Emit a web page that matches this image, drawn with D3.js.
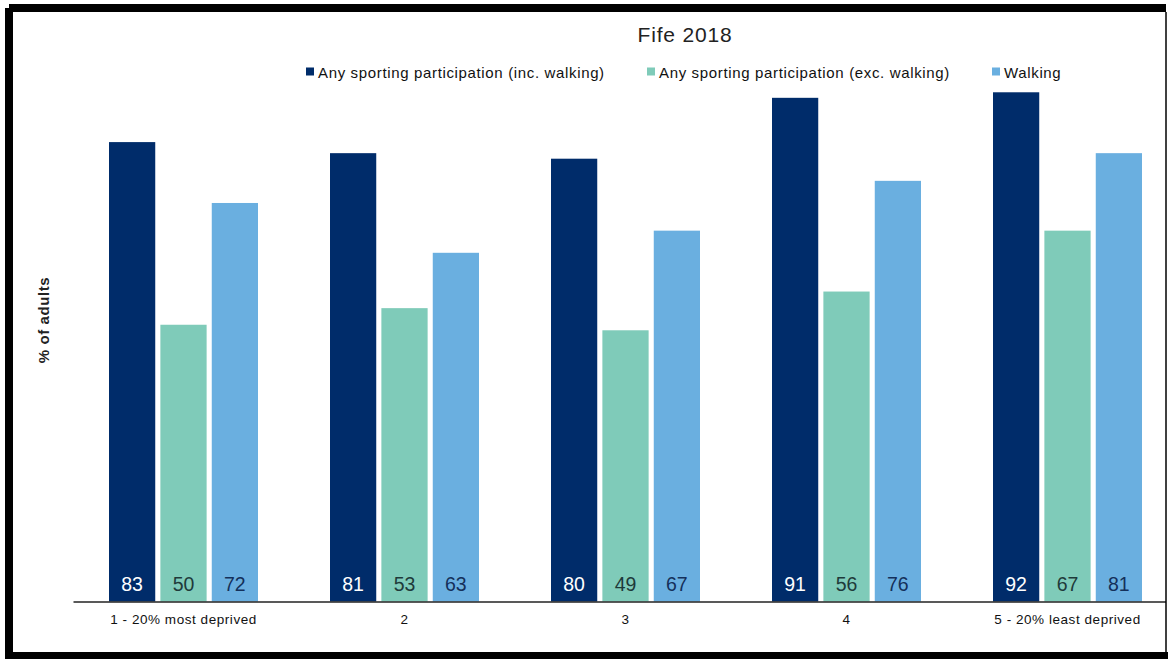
<!DOCTYPE html>
<html>
<head>
<meta charset="utf-8">
<script src="https://cdn.jsdelivr.net/npm/d3@7"></script>
<style>
  body { margin: 0; background: #fff; }
  text { font-family: "Liberation Sans", Arial, sans-serif; }
</style>
</head>
<body>
<div id="chart"></div>
<script>
// data
var categories = ["1 - 20% most deprived", "2", "3", "4", "5 - 20% least deprived"];
var seriesNames = ["Any sporting participation (inc. walking)", "Any sporting participation (exc. walking)", "Walking"];
var incWalking = [83, 81, 80, 91, 92];
var excWalking = [50, 53, 49, 56, 67];
var walking = [72, 63, 67, 76, 81];

var colors = ["#002c6a", "#7fcbb9", "#6aafe0"];
var labelColors = ["#ffffff", "#1e3a3a", "#14305a"];

var svgWidth = 1168;
var svgHeight = 659;

var svg = d3.select("#chart")
  .append("svg")
  .attr("width", svgWidth)
  .attr("height", svgHeight);

// build rows for each bar
var rows = [];
categories.forEach(function(c, i) {
  [incWalking, excWalking, walking].forEach(function(arr, s) {
    rows.push({ cat: c, series: s, value: arr[i] });
  });
});

var xBandScale = d3.scaleBand()
  .domain(categories)
  .range([73, 1178])
  .paddingInner(0)
  .paddingOuter(0);

var xInner = d3.scaleBand()
  .domain([0, 1, 2])
  .range([36, xBandScale.bandwidth() - 36])
  .paddingInner(0.1)
  .paddingOuter(0);

var yLinearScale = d3.scaleLinear()
  .domain([0, 100])
  .range([601.5, 48]);

svg.append("clipPath").attr("id", "frame")
  .append("rect").attr("x", 13).attr("y", 12).attr("width", 1153).attr("height", 641);

var plot = svg.append("g").attr("clip-path", "url(#frame)");

// bars
plot.selectAll(".bar")
  .data(rows)
  .enter()
  .append("rect")
  .attr("class", "bar")
  .attr("x", d => xBandScale(d.cat) + xInner(d.series))
  .attr("y", d => yLinearScale(d.value))
  .attr("width", xInner.bandwidth())
  .attr("height", d => yLinearScale(0) - yLinearScale(d.value))
  .attr("fill", d => colors[d.series]);

// value labels at the foot of bars
plot.selectAll(".vlabel")
  .data(rows)
  .enter()
  .append("text")
  .attr("class", "vlabel")
  .attr("x", d => xBandScale(d.cat) + xInner(d.series) + xInner.bandwidth() / 2)
  .attr("y", yLinearScale(0) - 11)
  .attr("text-anchor", "middle")
  .attr("font-size", "19.5px")
  .attr("fill", d => labelColors[d.series])
  .text(d => d.value);

// x axis
var bottomAxis = d3.axisBottom(xBandScale).tickSize(0).tickPadding(13);
var xAxis = plot.append("g")
  .attr("transform", `translate(0, ${yLinearScale(0)})`)
  .call(bottomAxis);
xAxis.select(".domain").attr("stroke", "#222").attr("stroke-width", 1.5);
xAxis.selectAll("text")
  .attr("font-size", "13.5px")
  .attr("letter-spacing", "0.55px")
  .attr("fill", "#111")
  .style("font-family", "Liberation Sans, Arial, sans-serif");

// y axis title
svg.append("text")
  .attr("transform", "rotate(-90)")
  .attr("x", -320)
  .attr("y", 49)
  .attr("text-anchor", "middle")
  .attr("font-size", "15px")
  .attr("font-weight", "bold")
  .attr("letter-spacing", "0.6px")
  .attr("fill", "#222")
  .text("% of adults");

// title
svg.append("text")
  .attr("x", 685)
  .attr("y", 42)
  .attr("text-anchor", "middle")
  .attr("font-size", "21px")
  .attr("letter-spacing", "0.8px")
  .attr("fill", "#222")
  .text("Fife 2018");

// legend
var legendX = [306, 647, 992];
var legend = svg.selectAll(".legend")
  .data(seriesNames)
  .enter()
  .append("g")
  .attr("class", "legend")
  .attr("transform", (d, i) => `translate(${legendX[i]}, 72)`);
legend.append("rect")
  .attr("x", 0).attr("y", -4.5)
  .attr("width", 8).attr("height", 8)
  .attr("fill", (d, i) => colors[i]);
legend.append("text")
  .attr("x", 12)
  .attr("y", 5.5)
  .attr("font-size", "15px")
  .attr("letter-spacing", "0.65px")
  .attr("fill", "#111")
  .text(d => d);

// frame
svg.append("path")
  .attr("d", "M9,8 H1166 M9,8 V656 M5,656 H1168")
  .attr("fill", "none").attr("stroke", "#000").attr("stroke-width", 8);
svg.append("line")
  .attr("x1", 1166).attr("x2", 1166).attr("y1", 12).attr("y2", 652)
  .attr("stroke", "#000").attr("stroke-width", 1.5);
</script>
</body>
</html>
